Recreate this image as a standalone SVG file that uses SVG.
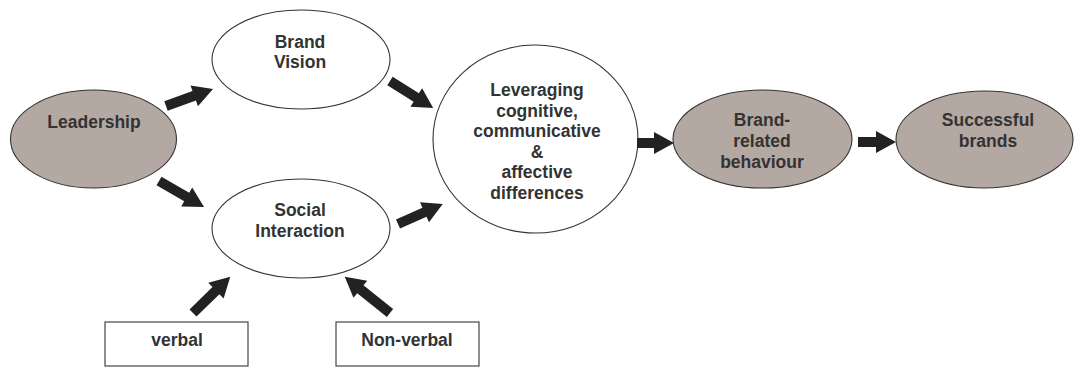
<svg xmlns="http://www.w3.org/2000/svg" width="1074" height="367" viewBox="0 0 1074 367">
<style>
.n{stroke:#333;stroke-width:1.1}
.w{fill:#fff}
.g{fill:#b3a8a2}
.t{font-family:"Liberation Sans",Arial,sans-serif;font-weight:bold;font-size:17.5px;fill:#333;text-anchor:middle}
.a{fill:#222}
</style>
<rect width="1074" height="367" fill="#fff"/>
<g id="leadership"><ellipse class="n g" cx="93.5" cy="139" rx="83" ry="49"/><text class="t" x="94" y="128">Leadership</text></g>
<g id="brand-vision"><ellipse class="n w" cx="301" cy="59.5" rx="89" ry="49.5"/><text class="t" x="300" y="48">Brand</text><text class="t" x="300" y="68">Vision</text></g>
<g id="social-interaction"><ellipse class="n w" cx="301" cy="228.5" rx="89" ry="49.5"/><text class="t" x="300" y="216">Social</text><text class="t" x="300" y="237">Interaction</text></g>
<g id="leveraging"><ellipse class="n w" cx="535.5" cy="139" rx="102.5" ry="94"/>
<text class="t" x="537" y="96">Leveraging</text>
<text class="t" x="537" y="116.6">cognitive,</text>
<text class="t" x="537" y="137.2">communicative</text>
<text class="t" x="537" y="157.8">&amp;</text>
<text class="t" x="537" y="178.4">affective</text>
<text class="t" x="537" y="199">differences</text></g>
<g id="brand-related"><ellipse class="n g" cx="762.5" cy="139" rx="89.5" ry="49"/><text class="t" x="762" y="126">Brand-</text><text class="t" x="762" y="147">related</text><text class="t" x="762" y="168">behaviour</text></g>
<g id="successful-brands"><ellipse class="n g" cx="984.5" cy="139.5" rx="88.5" ry="48.5"/><text class="t" x="988" y="126">Successful</text><text class="t" x="988" y="147">brands</text></g>
<g id="verbal"><rect class="n w" x="105" y="322" width="143" height="44"/><text class="t" x="177" y="346">verbal</text></g>
<g id="non-verbal"><rect class="n w" x="336" y="322" width="143" height="44"/><text class="t" x="407" y="346">Non-verbal</text></g>
<g id="connectors" class="a">
<path transform="translate(166,106) rotate(-19.9)" d="M0,-5H30V-11L50,0L30,11V5H0Z"/>
<path transform="translate(159,181) rotate(30)" d="M0,-5H32V-11L52,0L32,11V5H0Z"/>
<path transform="translate(390,81) rotate(32.1)" d="M0,-5H31V-11L51,0L31,11V5H0Z"/>
<path transform="translate(398,224) rotate(-24)" d="M0,-5H29V-11L49,0L29,11V5H0Z"/>
<path transform="translate(637,143) rotate(0)" d="M0,-5H17V-11L37,0L17,11V5H0Z"/>
<path transform="translate(858,142) rotate(0)" d="M0,-5H18V-11L38,0L18,11V5H0Z"/>
<path transform="translate(193,313) rotate(-44.2)" d="M0,-5H32V-11L52,0L32,11V5H0Z"/>
<path transform="translate(390,313) rotate(-141.3)" d="M0,-5H38V-11L58,0L38,11V5H0Z"/>
</g>
</svg>
